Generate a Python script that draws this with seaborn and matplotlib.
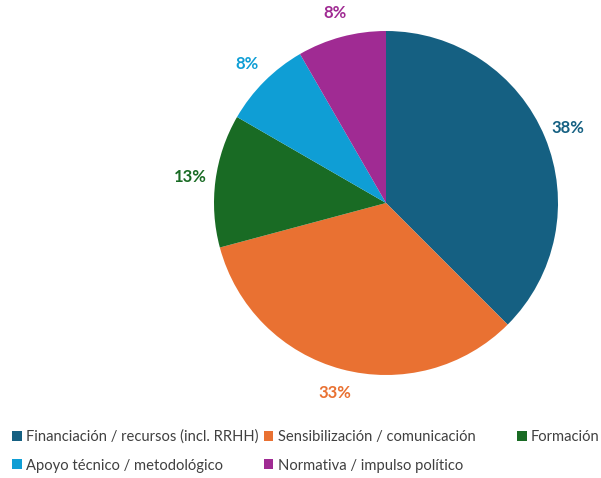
#!/usr/bin/env python3
"""
Pie chart: tipo de apoyo solicitado
"""
import matplotlib
matplotlib.use("Agg")
import matplotlib.pyplot as plt
import numpy as np
import seaborn as sns

# Data
categories = [
    "Financiación / recursos (incl. RRHH)",
    "Sensibilización / comunicación",
    "Formación",
    "Apoyo técnico / metodológico",
    "Normativa / impulso político",
]
counts = [9, 8, 3, 2, 2]
pct_labels = ["38%", "33%", "13%", "8%", "8%"]
colors = ["#156082", "#E97132", "#196B24", "#0F9ED5", "#A02B93"]

sns.set_theme(style="white")
plt.rcParams['font.family'] = ['Lato', 'DejaVu Sans']

fig = plt.figure(figsize=(6.01, 4.78), dpi=100)
# square axes centred on the pie (pixel coords: centre 386,203, radius 172)
ax = fig.add_axes([(386 - 172) / 601, (478 - 203 - 172) / 478, 344 / 601, 344 / 478])

palette = sns.color_palette(colors)
wedges, _ = ax.pie(counts, colors=palette, startangle=90, counterclock=False,
                   radius=1.0, wedgeprops=dict(linewidth=0))
ax.set_xlim(-1, 1)
ax.set_ylim(-1, 1)
ax.set_aspect('equal')
ax.axis('off')

for w, lab, col in zip(wedges, pct_labels, colors):
    ang = np.deg2rad((w.theta1 + w.theta2) / 2)
    r = 1.145
    ax.text(r * np.cos(ang), r * np.sin(ang), lab,
            ha='center', va='center', fontsize=12, fontweight='bold',
            color=col, clip_on=False)

leg_kw = dict(loc='center left', frameon=False, fontsize=10.6, handlelength=0.65,
              handleheight=0.65, handletextpad=0.3, labelspacing=1.0,
              labelcolor='#404040', borderaxespad=0, borderpad=0)
# first two columns (row-major order: A B / D E)
order = [0, 3, 1, 4]
leg1 = fig.legend([wedges[i] for i in order], [categories[i] for i in order],
                  ncol=2, columnspacing=0.35,
                  bbox_to_anchor=(12 / 601, (478 - 451) / 478), **leg_kw)
# third column
leg2 = fig.legend([wedges[2]], [categories[2]], ncol=1,
                  bbox_to_anchor=(517 / 601, (478 - 437) / 478), **leg_kw)

fig.savefig('out.png', dpi=100)
plt.close(fig)
